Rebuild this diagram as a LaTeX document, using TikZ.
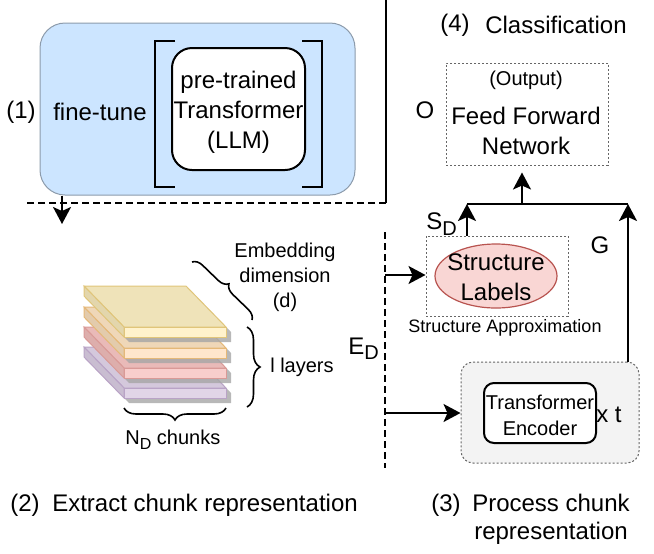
\documentclass[tikz,border=0pt]{standalone}
\usepackage{fontspec}
\setmainfont{Liberation Sans}
\usetikzlibrary{arrows.meta,decorations.pathreplacing,shapes.geometric}
\definecolor{tuneFill}{HTML}{CCE5FF}
\definecolor{tuneStroke}{HTML}{8C9BAB}
\definecolor{yTop}{HTML}{EFE3B9}\definecolor{yFront}{HTML}{FFF2CC}\definecolor{ySide}{HTML}{E3D6AC}\definecolor{yStroke}{HTML}{E0C57A}
\definecolor{oTop}{HTML}{EFD7B8}\definecolor{oFront}{HTML}{FFE6CC}\definecolor{oSide}{HTML}{E3CBAC}\definecolor{oStroke}{HTML}{E5B878}
\definecolor{rTop}{HTML}{E9BAB8}\definecolor{rFront}{HTML}{F8CECC}\definecolor{rSide}{HTML}{DDAEAC}\definecolor{rStroke}{HTML}{D99A97}
\definecolor{pTop}{HTML}{D4C8DC}\definecolor{pFront}{HTML}{E1D5E7}\definecolor{pSide}{HTML}{C9BDD1}\definecolor{pStroke}{HTML}{B9A3C6}
\definecolor{ellFill}{HTML}{F9D6D4}
\definecolor{ellStroke}{HTML}{B85450}
\definecolor{encFill}{HTML}{F3F3F3}
\begin{document}
\begin{tikzpicture}[x=0.5pt,y=-0.5pt,
  txt/.style={inner sep=0pt, font=\fontsize{12}{15}\selectfont, align=center},
  smalltxt/.style={inner sep=0pt, font=\fontsize{10}{12.5}\selectfont, align=center},
  tinytxt/.style={inner sep=0pt, font=\fontsize{9}{11}\selectfont, align=center},
  arr/.style={line width=1pt, -{Stealth[length=8.5pt,width=9pt,inset=2pt]}},
  dashline/.style={line width=1pt, dash pattern=on 3.5pt off 2pt},
  dotbox/.style={draw=black!60, dash pattern=on 1pt off 1pt, line width=0.5pt},
  bracestyle/.style={line width=0.8pt, decorate},
  solidline/.style={line width=1pt}
]
\useasboundingbox (0,0) rectangle (654,553);

% ---------- (1) fine-tune ----------
\node[draw=tuneStroke, line width=0.5pt, fill=tuneFill, rounded corners=12.5pt,
      minimum width=157.5pt, minimum height=86pt, inner sep=0pt] (tunebox) at (197.5,109) {};
\draw[line width=1pt] (175,41) -- (155,41) -- (155,187) -- (175,187);
\draw[line width=1pt] (302,41) -- (322,41) -- (322,187) -- (302,187);
\node[draw, line width=1pt, fill=white, rounded corners=10pt,
      minimum width=66.5pt, minimum height=61pt, inner sep=0pt] (llm) at (238.5,109) {};
\node[txt] (llmtext) at (238.5,112) {pre-trained\\Transformer\\(LLM)};
\node[txt] (one) at (21,112) {(1)};
\node[txt] (finetune) at (100,112) {fine-tune};

% separators
\coordinate (sepTop) at (386,0);
\coordinate (sepCorner) at (386,203);
\coordinate (sepLeft) at (27,203);
\draw[solidline] (sepTop) -- (sepCorner);
\draw[dashline] (sepCorner) -- (sepLeft);
\coordinate (ftarrow) at (62,224);
\draw[arr] (tunebox.south -| ftarrow) -- (ftarrow);

% ---------- (2) layers ----------
\foreach \yy/\tc/\fc/\sc/\st in {347/pTop/pFront/pSide/pStroke, 327/rTop/rFront/rSide/rStroke, 307/oTop/oFront/oSide/oStroke, 286/yTop/yFront/ySide/yStroke}{
  \fill[black!35, opacity=0.8] (89,{\yy+5}) -- (191,{\yy+5}) -- (231,{\yy+46}) -- (231,{\yy+56}) -- (129,{\yy+56}) -- (89,{\yy+15}) -- cycle;
  \filldraw[fill=\tc, draw=\st, line width=0.5pt] (84,\yy) -- (186,\yy) -- (226,{\yy+41}) -- (124,{\yy+41}) -- cycle;
  \filldraw[fill=\fc, draw=\st, line width=0.5pt] (124,{\yy+41}) -- (226,{\yy+41}) -- (226,{\yy+51}) -- (124,{\yy+51}) -- cycle;
  \filldraw[fill=\sc, draw=\st, line width=0.5pt] (84,\yy) -- (124,{\yy+41}) -- (124,{\yy+51}) -- (84,{\yy+10}) -- cycle;
}
\draw[bracestyle, decoration={brace, amplitude=5pt}] (192,262) -- (252,320);
\draw[bracestyle, decoration={brace, amplitude=6.5pt}] (247,327) -- (247,407);
\draw[bracestyle, decoration={brace, amplitude=6pt}] (226,408) -- (124,408);
\node[smalltxt] (embed) at (285,277) {Embedding\\dimension\\(d)};
\node[smalltxt] (layers) at (302,367) {l layers};
\node[inner sep=0pt, anchor=base west, font=\fontsize{10}{12}\selectfont] (chunks) at (125,444)
  {N\raisebox{-2.5pt}{\fontsize{8}{9.6}\selectfont D} chunks};
\node[inner sep=0pt, anchor=base west, font=\fontsize{12}{15}\selectfont] (ed) at (348,354)
  {E\raisebox{-2.5pt}{\fontsize{10}{12}\selectfont D}};
\node[txt] (two) at (25,505) {(2)};
\node[txt] (extract) at (205,505) {Extract chunk representation};

% ---------- (3) process ----------
\coordinate (dvTop) at (385,232);
\coordinate (dvBot) at (385,468);
\draw[dashline] (dvTop) -- (dvBot);
\node[dotbox, minimum width=71pt, minimum height=40pt, inner sep=0pt] (sbox) at (497,276) {};
\node[ellipse, draw=ellStroke, fill=ellFill, line width=0.6pt, minimum width=61pt, minimum height=32pt, inner sep=0pt] (ell) at (496,276) {};
\node[txt] (ellText) at (496,277) {Structure\\Labels};
\node[tinytxt] (approx) at (505,328) {Structure Approximation};
\node[dotbox, fill=encFill, rounded corners=6pt, minimum width=89pt, minimum height=50.5pt, inner sep=0pt] (encOuter) at (550,412.5) {};
\node[draw, line width=1pt, fill=white, rounded corners=5pt, minimum width=56pt, minimum height=30pt, inner sep=0pt] (enc) at (540,413) {};
\node[inner sep=0pt, font=\fontsize{10}{13}\selectfont, align=center] (encText) at (540,415) {Transformer\\Encoder};
\node[txt] (xt) at (609,415) {x t};
\coordinate (sa) at (385,275);
\draw[arr] (sa) -- (sa -| sbox.west);
\coordinate (ea) at (385,413);
\draw[arr] (ea) -- (ea -| encOuter.west);
\node[txt] (three) at (446,505) {(3)};
\node[inner sep=0pt, font=\fontsize{12}{14}\selectfont, align=center] (process) at (551,519) {Process chunk\\representation};

% ---------- (4) classification ----------
\node[txt] (four) at (455,25) {(4)};
\node[txt] (classif) at (556,25) {Classification};
\node[dotbox, minimum width=81pt, minimum height=51pt, inner sep=0pt] (ffn) at (527,114) {};
\node[smalltxt] (output) at (526,80) {(Output)};
\node[txt] (ffnText) at (526,131) {Feed Forward\\Network};
\node[txt] (o) at (425,110) {O};
\coordinate (sdTop) at (467,204);
\coordinate (gTop) at (628,204);
\coordinate (upBot) at (522,204);
\draw[arr] (sbox.north -| sdTop) -- (sdTop);
\draw[arr] (encOuter.north -| gTop) -- (gTop);
\draw[solidline] (sdTop) -- (gTop);
\draw[arr, shorten >=3.5pt] (upBot) -- (ffn.south -| upBot);
\node[inner sep=0pt, anchor=base west, font=\fontsize{12}{15}\selectfont] (sd) at (426,229)
  {S\raisebox{-3pt}{\fontsize{10}{12}\selectfont D}};
\node[txt] (g) at (600,245) {G};
\end{tikzpicture}
\end{document}
